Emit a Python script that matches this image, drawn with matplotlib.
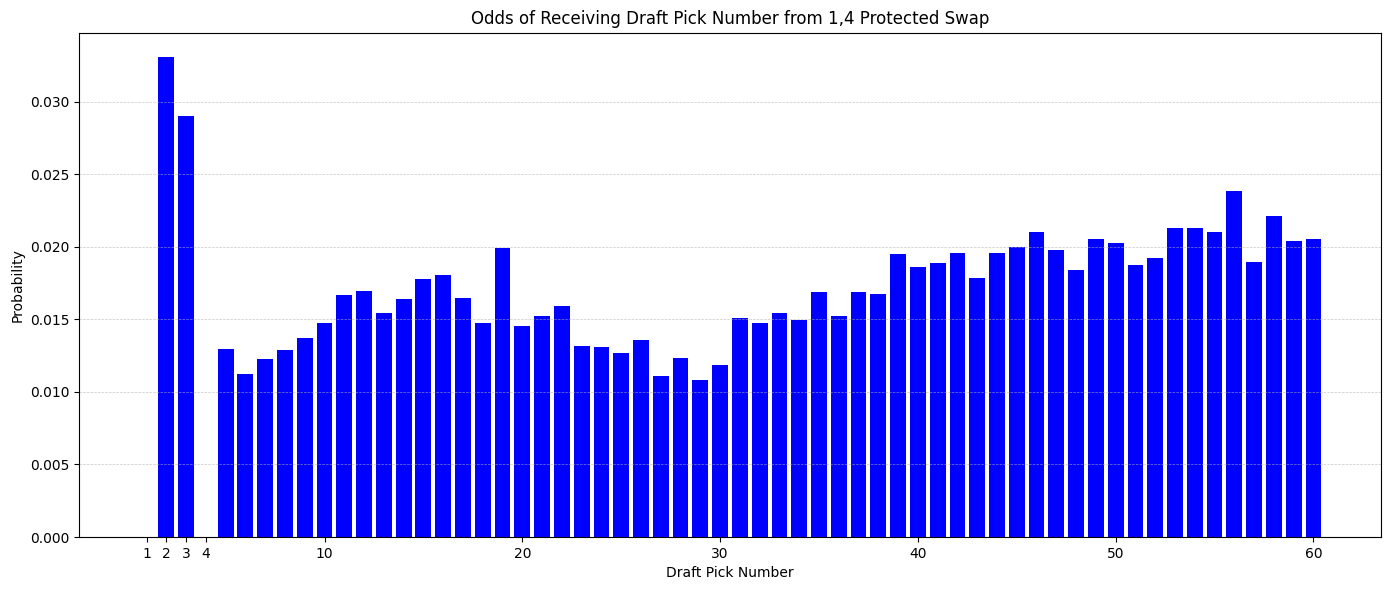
"""
Odds of receiving each draft pick from a 1,4 protected swap
"""
import numpy as np
from matplotlib import pyplot as plt

# draft pick numbers 1..60
picks = list(range(1, 61))

# probability of landing on each pick (picks 1 and 4 are protected)
probabilities = [
    0.0, 0.0331, 0.0290, 0.0, 0.01294, 0.01122, 0.01225, 0.01287, 0.01369, 0.01473,
    0.01665, 0.01693, 0.01541, 0.01638, 0.01775, 0.01803, 0.01645, 0.01473, 0.01989, 0.01452,
    0.01521, 0.01589, 0.01314, 0.01307, 0.01266, 0.01356, 0.01108, 0.01232, 0.01080, 0.01184,
    0.01507, 0.01473, 0.01541, 0.01493, 0.01686, 0.01521, 0.01686, 0.01672, 0.01947, 0.01858,
    0.01885, 0.01954, 0.01782, 0.01954, 0.01995, 0.02099, 0.01975, 0.01837, 0.02050, 0.02023,
    0.01872, 0.01920, 0.02126, 0.02126, 0.02099, 0.02381, 0.01892, 0.02209, 0.02037, 0.02050,
]

tick_positions = [1, 2, 3, 4, 10, 20, 30, 40, 50, 60]


def main():
    fig, ax = plt.subplots(figsize=(13.89, 5.9), dpi=100)
    ax.bar(picks, probabilities, color="blue")
    ax.set_xticks(tick_positions)
    ax.set_xlabel("Draft Pick Number")
    ax.set_ylabel("Probability")
    ax.set_title("Odds of Receiving Draft Pick Number from 1,4 Protected Swap")
    ax.grid(axis="y", linestyle="--", linewidth=0.5, alpha=0.7)
    # match the reference axes box
    fig.subplots_adjust(left=0.0572, right=0.9939, top=0.9449, bottom=0.0898)
    fig.savefig("out.png")


if __name__ == "__main__":
    main()
